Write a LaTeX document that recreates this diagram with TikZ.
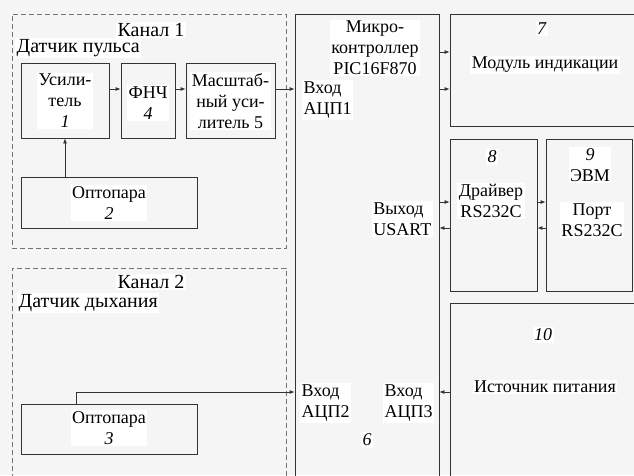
\documentclass[tikz,border=0pt]{standalone}
\usepackage{fontspec}
\setmainfont{Liberation Serif}
\usetikzlibrary{arrows.meta,positioning}
\tikzset{
  blk/.style={draw=black!80, line width=0.8pt, inner sep=0pt},
  chan/.style={draw=black!55, line width=0.8pt, dash pattern=on 5pt off 3pt, inner sep=0pt},
  txt/.style={fill=white, inner sep=1.5pt, align=center, font=\fontsize{18}{21}\selectfont},
  head/.style={txt, font=\fontsize{20}{22}\selectfont},
  arr/.style={-{Latex[length=5pt,width=4pt]}, line width=0.8pt, draw=black!80},
}
\begin{document}
\begin{tikzpicture}[x=1pt, y=-1pt]
    \fill[black!4] (0,0) rectangle (634,475);
    \clip (0,0) rectangle (634,475);
    % channels
    \node[chan, minimum width=274pt, minimum height=234pt] (chan1) at (149,131) {};
    \node[chan, minimum width=274pt, minimum height=222pt] (chan2) at (149,379) {};
    \node[head] (chan1t) at (151,30) {Канал 1};
    \node[head, anchor=west] (sens1) at (15,48) {Датчик пульса};
    \node[head] (chan2t) at (151,282) {Канал 2};
    \node[head, anchor=west] (sens2) at (17,303) {Датчик дыхания};
    % blocks
    \node[blk, minimum width=88pt, minimum height=75pt] (amp1) at (65,100.5) {};
    \node[blk, minimum width=54pt, minimum height=75pt] (lpf4) at (148,100.5) {};
    \node[blk, minimum width=89pt, minimum height=75pt] (scl5) at (230.5,100.5) {};
    \node[blk, minimum width=176pt, minimum height=51pt] (opt2) at (109,202.5) {};
    \node[blk, minimum width=176pt, minimum height=50pt] (opt3) at (109,429) {};
    \node[blk, minimum width=144pt, minimum height=476pt] (micro) at (367,252) {};
    \node[blk, minimum width=190pt, minimum height=112pt] (mod7) at (545,70) {};
    \node[blk, minimum width=87pt, minimum height=152pt] (drv8) at (493.5,215) {};
    \node[blk, minimum width=86pt, minimum height=152pt] (pc9) at (589,215) {};
    \node[blk, minimum width=190pt, minimum height=187pt] (pwr10) at (545,396.5) {};
    % texts
    \node[txt] (amp1t) at (65,101) {Усили-\\тель\\\textit{1}};
    \node[txt] (lpf4t) at (148,103) {ФНЧ\\\textit{4}};
    \node[txt] (scl5t) at (230.5,101) {Масштаб-\\ный уси-\\литель 5};
    \node[txt] (opt2t) at (109,203) {Оптопара\\\textit{2}};
    \node[txt] (opt3t) at (109,428) {Оптопара\\\textit{3}};
    \node[txt] (microt) at (375,48) {Микро-\\контроллер\\PIC16F870};
    \node[txt, align=left, anchor=west] (adc1) at (302,100) {Вход\\АЦП1};
    \node[txt, align=left, anchor=east] (usart) at (433,219) {Выход\\USART};
    \node[txt, align=left, anchor=west] (adc2) at (300,403) {Вход\\АЦП2};
    \node[txt, align=left, anchor=west] (adc3) at (383,403) {Вход\\АЦП3};
    \node[txt] (micron) at (367,440) {\textit{6}};
    \node[txt] (mod7n) at (542,29) {\textit{7}};
    \node[txt] (mod7t) at (545,65) {Модуль индикации};
    \node[txt] (drv8n) at (492,157) {\textit{8}};
    \node[txt] (drv8t) at (491,201) {Драйвер\\RS232C};
    \node[txt] (pc9t) at (590,165) {\textit{9}\\ЭВМ};
    \node[txt] (port9) at (592,220) {Порт\\RS232C};
    \node[txt] (pwr10n) at (543,335) {\textit{10}};
    \node[txt] (pwr10t) at (545,387) {Источник питания};
    % levels
    \coordinate (lvA) at (0,52);
    \coordinate (lvB) at (0,89);
    \coordinate (lvC) at (0,202);
    \coordinate (lvD) at (0,228);
    \coordinate (lvE) at (0,392);
    % connectors
    \draw[arr] (amp1.east |- lvB) -- (lpf4.west |- lvB);
    \draw[arr] (lpf4.east |- lvB) -- (scl5.west |- lvB);
    \draw[arr] (scl5.east |- lvB) -- (micro.west |- lvB);
    \draw[arr] (amp1.south |- opt2.north) -- (amp1.south);
    \draw[arr] ([xshift=-33pt]opt3.north) |- (micro.west |- lvE);
    \draw[arr] (micro.east |- lvA) -- (mod7.west |- lvA);
    \draw[arr] (micro.east |- lvB) -- (mod7.west |- lvB);
    \draw[arr] (micro.east |- lvC) -- (drv8.west |- lvC);
    \draw[arr] (drv8.west |- lvD) -- (micro.east |- lvD);
    \draw[arr] (drv8.east |- lvC) -- (pc9.west |- lvC);
    \draw[arr] (pc9.west |- lvD) -- (drv8.east |- lvD);
    \draw[arr] (pwr10.west |- lvE) -- (micro.east |- lvE);
  \end{tikzpicture}
\end{document}
